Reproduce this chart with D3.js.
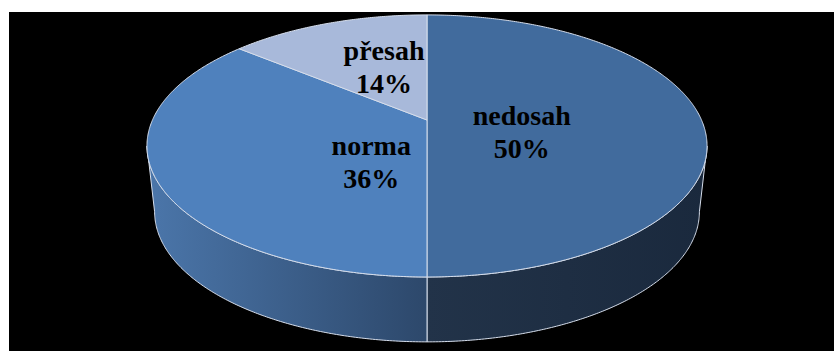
<!DOCTYPE html>
<html>
<head>
<meta charset="utf-8">
<script src="https://cdn.jsdelivr.net/npm/d3@7"></script>
<style>
  html, body { margin: 0; padding: 0; background: #ffffff; }
  svg { display: block; }
</style>
</head>
<body>
<svg id="chart" width="834" height="351"></svg>
<script>
// Rozložení vzorku: nedosah / norma / přesah (v %)
const categories = ["nedosah", "norma", "přesah"];
const shares = [50, 36, 14];

// Vzhled
const topColors = ["#416B9D", "#4F81BD", "#A8B9DA"];
// barvy boku: [u vnějšího okraje, u středu]
const sideStops = [["#1A293D", "#223349"], ["#4B76AA", "#2D486B"], ["#8A9BBE", "#7A8BAE"]];
const edgeColor = "#d6deec";
// kotvy popisků na disku: [úhel ve stupních, podíl poloměru]
const labelSpots = [[104, 0.35], [212, 0.36], [340, 0.5]];

const W = 834, H = 351;
const svg = d3.select("#chart");

// černé pozadí plochy grafu
svg.append("rect").attr("x", 9).attr("y", 12).attr("width", W - 9).attr("height", H - 12).attr("fill", "#000");

// perspektivní průmět kruhového disku (horní a dolní podstava)
const geo = { cx: 427, p: 0.198,
  top: { cy: 120, a: 274.5, b: 125.9 },
  bot: { cy: 186, a: 267, b: 125 } };

function proj(theta, r, face) {
  const f = geo[face];
  const u = r * Math.sin(theta), w = r * Math.cos(theta);
  const d = 1 + geo.p * w;
  return [geo.cx + f.a * u / d, f.cy - f.b * w / d];
}

const pie = d3.pie().sort(null).startAngle(0).endAngle(2 * Math.PI);
const arcs = pie(shares);

const line = d3.line();
const step = Math.PI / 360;
function sample(a0, a1) {
  const n = Math.max(2, Math.ceil(Math.abs(a1 - a0) / step));
  return d3.range(n + 1).map(i => a0 + (a1 - a0) * i / n);
}

// tečné úhly obrysu (kraje viditelného boku)
const tR = Math.acos(-geo.p), tL = 2 * Math.PI - tR;

const defs = svg.append("defs");

// boky výsečí
arcs.forEach((d, i) => {
  const lo = Math.max(d.startAngle, tR), hi = Math.min(d.endAngle, tL);
  if (hi <= lo) return;
  const pts = sample(lo, hi).map(t => proj(t, 1, "top"))
    .concat(sample(hi, lo).map(t => proj(t, 1, "bot")));
  const xs = pts.map(q => q[0]);
  const xMin = d3.min(xs), xMax = d3.max(xs);
  // vnější okraj je ten vzdálenější od středu
  const outerLeft = (geo.cx - xMin) > (xMax - geo.cx);
  const gid = "side" + i;
  const g = defs.append("linearGradient").attr("id", gid)
    .attr("gradientUnits", "userSpaceOnUse")
    .attr("x1", xMin).attr("x2", xMax).attr("y1", 0).attr("y2", 0);
  const [outer, inner] = sideStops[i];
  g.append("stop").attr("offset", 0).attr("stop-color", outerLeft ? outer : inner);
  g.append("stop").attr("offset", 1).attr("stop-color", outerLeft ? inner : outer);
  svg.append("path")
    .attr("d", line(pts) + "Z")
    .attr("fill", `url(#${gid})`)
    .attr("stroke", edgeColor).attr("stroke-width", 1).attr("stroke-linejoin", "round");
});

// horní plocha výsečí
arcs.forEach((d, i) => {
  const pts = [proj(0, 0, "top")].concat(sample(d.startAngle, d.endAngle).map(t => proj(t, 1, "top")));
  svg.append("path")
    .attr("d", line(pts) + "Z")
    .attr("fill", topColors[i])
    .attr("stroke", edgeColor).attr("stroke-width", 1).attr("stroke-linejoin", "round");
});

// popisky
const total = d3.sum(shares);
const fmt = v => Math.round(v / total * 100) + "%";
arcs.forEach((d, i) => {
  const [deg, fr] = labelSpots[i];
  const [x, y] = proj(deg * Math.PI / 180, fr, "top");
  const t = svg.append("text")
    .attr("x", x).attr("y", y)
    .attr("text-anchor", "middle")
    .attr("font-family", "'Liberation Serif', 'Times New Roman', serif")
    .attr("font-weight", "bold")
    .attr("font-size", 28)
    .attr("fill", "#000");
  t.append("tspan").attr("x", x).attr("dy", "-0.2em").text(categories[i]);
  t.append("tspan").attr("x", x).attr("dy", 33).text(fmt(d.value));
});
</script>
</body>
</html>
